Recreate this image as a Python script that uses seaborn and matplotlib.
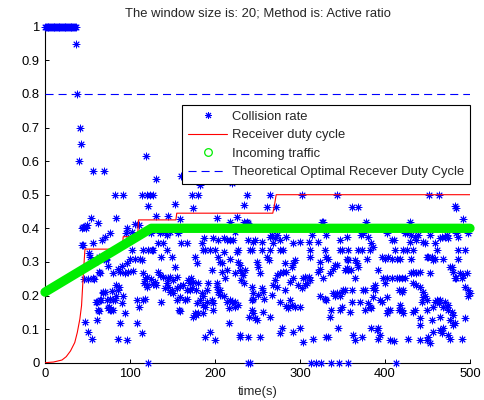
import matplotlib
matplotlib.use("Agg")
import matplotlib.pyplot as plt
from matplotlib.lines import Line2D
import pandas as pd
import seaborn as sns

sns.set_theme(style="white")
plt.rcParams["font.family"] = ["Liberation Sans", "DejaVu Sans"]
plt.rcParams["lines.scale_dashes"] = False

TITLE = "The window size is: 20; Method is: Active ratio"
X_LABEL = "time(s)"
LEGEND_LABELS = ["Collision rate", "Receiver duty cycle", "Incoming traffic",
                 "Theoretical Optimal Recever Duty Cycle"]
X_TICKS = [0, 100, 200, 300, 400, 500]
Y_TICKS = [0, 0.1, 0.2, 0.3, 0.4, 0.5, 0.6, 0.7, 0.8, 0.9, 1]
Y_TICK_LABELS = ["0", "0.1", "0.2", "0.3", "0.4", "0.5", "0.6", "0.7", "0.8", "0.9", "1"]

# collision rate: saturated start-up phase (every packet collides)
startup_t = [0, 1, 2, 3, 4, 5, 6, 7, 8, 9, 10, 11, 12, 13, 14, 15, 16, 17, 18,
             19, 20, 21, 22, 23, 24, 25, 26, 27, 28, 29, 30, 31, 32, 33, 34, 35, 36]
startup_rate = [1, 1, 1, 1, 1, 1, 1, 1, 1, 1, 1, 1, 1, 1, 1, 1, 1, 1, 1,
                1, 1, 1, 1, 1, 1, 1, 1, 1, 1, 1, 1, 1, 1, 1, 1, 1, 1]

# collision rate samples (time, rate) after start-up
collision_ramp = [
    (37, 0.95), (38, 0.80), (40, 0.60), (41, 0.70), (42, 0.65), (43, 0.35), (44, 0.40),
    (45, 0.35), (46, 0.405), (47, 0.12), (48, 0.40), (49, 0.41), (50, 0.25), (51, 0.092),
    (52, 0.327), (53, 0.315), (54, 0.43), (55, 0.072), (56, 0.357), (57, 0.57), (58, 0.25),
    (59, 0.30), (60, 0.182), (61, 0.127), (62, 0.417), (63, 0.155), (64, 0.315), (65, 0.268),
    (66, 0.187), (67, 0.365), (68, 0.206), (69, 0.57), (70, 0.375), (71, 0.211), (72, 0.31),
    (73, 0.187), (74, 0.288), (75, 0.167), (76, 0.19), (77, 0.385), (78, 0.157), (79, 0.214),
    (71.5, 0.305), (63.5, 0.271), (46, 0.25), (57, 0.251), (61, 0.18), (64.7, 0.187),
    (68.6, 0.211), (76.5, 0.157), (74.5, 0.162), (45, 0.405), (62.7, 0.157),
]
collision_mid = [
    (82.4, 0.5), (92, 0.5), (114.5, 0.5), (120, 0.5), (123, 0.5), (126.7, 0.5), (118.8, 0.616),
    (130, 0.546), (121.6, 0.466), (153, 0.471), (84, 0.43), (131, 0.437), (145, 0.437),
    (158.8, 0.427), (96, 0.40), (95, 0.385), (110, 0.41), (102, 0.39), (106, 0.412), (135, 0.385),
    (143, 0.38), (157, 0.385), (124.7, 0.385), (141, 0.39), (147, 0.39), (100, 0.365),
    (159.6, 0.355), (133, 0.355), (139, 0.355), (115.7, 0.335), (121.6, 0.335), (125.5, 0.335),
    (127.5, 0.335), (143, 0.335), (102, 0.335), (100, 0.31), (106, 0.31), (112, 0.31),
    (114, 0.305), (137, 0.315), (149, 0.315), (153, 0.286), (90, 0.288), (96, 0.296), (86, 0.28),
    (88, 0.27), (94, 0.266), (98, 0.271), (104, 0.273), (80, 0.266), (115.7, 0.266),
    (119.6, 0.256), (118, 0.25), (125, 0.25), (133, 0.271), (135, 0.26), (139, 0.256),
    (145, 0.251), (147, 0.256), (151, 0.246), (155, 0.256), (127, 0.234), (129, 0.24),
    (143, 0.236), (84, 0.231), (87.5, 0.226), (86, 0.216), (116.5, 0.236), (119.6, 0.231),
    (120.4, 0.226), (131, 0.231), (141, 0.221), (145, 0.226), (149, 0.216), (151, 0.206),
    (147, 0.211), (155, 0.221), (159, 0.228), (84, 0.2), (92, 0.2), (80, 0.187), (82, 0.187),
    (90, 0.177), (108, 0.187), (115.7, 0.187), (117.6, 0.19), (110, 0.167), (137, 0.182),
    (155, 0.187), (159, 0.196), (94, 0.147), (80, 0.157), (157.6, 0.157), (88, 0.119),
    (108, 0.119), (113.7, 0.087), (86, 0.072), (96, 0.067), (121.6, 0.0), (160, 0.555),
    (159, 0.155),
]
collision_late1 = [
    (182, 0.529), (220, 0.535), (172.5, 0.5), (180.4, 0.5), (237.6, 0.5), (174.5, 0.46),
    (233.7, 0.469), (202, 0.43), (217.6, 0.42), (225.5, 0.435), (233.7, 0.42), (237.6, 0.42),
    (239, 0.415), (224, 0.39), (187, 0.37), (166.7, 0.357), (198, 0.37), (210, 0.37),
    (214, 0.365), (218, 0.365), (221.6, 0.365), (204, 0.365), (239, 0.365), (184.3, 0.355),
    (186.3, 0.335), (188, 0.335), (194, 0.335), (200, 0.335), (210, 0.33), (225.5, 0.33),
    (227.5, 0.335), (241, 0.335), (176.5, 0.315), (178.4, 0.296), (204, 0.315), (206, 0.30),
    (208, 0.296), (217.6, 0.31), (227.5, 0.30), (229.4, 0.29), (231.4, 0.266), (196, 0.276),
    (214, 0.276), (229, 0.276), (208, 0.271), (223.5, 0.268), (212, 0.251), (231, 0.246),
    (168.6, 0.246), (172, 0.251), (174, 0.241), (170.6, 0.236), (180, 0.236), (172.5, 0.221),
    (166.7, 0.216), (171, 0.216), (178, 0.216), (162.7, 0.231), (184.3, 0.206), (186, 0.2),
    (190, 0.216), (192, 0.236), (202, 0.236), (202, 0.226), (206, 0.216), (204, 0.211),
    (206, 0.201), (210, 0.2), (165, 0.187), (167, 0.19), (178.4, 0.177), (182, 0.187),
    (190, 0.182), (196, 0.187), (198, 0.177), (214, 0.182), (219.6, 0.18), (223.5, 0.182),
    (218, 0.187), (227.5, 0.172), (216, 0.162), (223.5, 0.167), (243, 0.187), (186, 0.172),
    (188, 0.167), (198, 0.157), (176.5, 0.147), (174.5, 0.137), (178, 0.142), (180.4, 0.147),
    (186.3, 0.147), (216, 0.119), (240, 0.137), (188, 0.077), (194, 0.092), (200, 0.067),
    (229.4, 0.077), (239, 0.077), (239, 0.0), (241.5, 0.0), (233, 0.26), (235, 0.276),
    (234, 0.236), (229, 0.082),
]
collision_late2 = [
    (264.7, 0.5), (302, 0.5), (260.8, 0.464), (271.8, 0.464), (247, 0.365), (284, 0.375),
    (264.7, 0.375), (270.6, 0.37), (272.5, 0.38), (266.7, 0.38), (268.6, 0.355), (276, 0.365),
    (292, 0.355), (300, 0.36), (310, 0.36), (314, 0.38), (321.6, 0.36), (325.5, 0.42),
    (245, 0.36), (255, 0.36), (243, 0.335), (255, 0.335), (264.7, 0.335), (276.5, 0.335),
    (280.4, 0.335), (311.8, 0.335), (249, 0.30), (251, 0.286), (253, 0.266), (261, 0.315),
    (263, 0.305), (292, 0.296), (294, 0.305), (290, 0.286), (284, 0.27), (282, 0.296),
    (312, 0.315), (323.5, 0.30), (272.5, 0.261), (270.6, 0.246), (268.6, 0.231), (276.5, 0.266),
    (280.4, 0.27), (306, 0.256), (310, 0.256), (312, 0.246), (308, 0.236), (306, 0.231),
    (303, 0.251), (292, 0.251), (288, 0.241), (298, 0.231), (321.6, 0.271), (323.5, 0.28),
    (243, 0.226), (245, 0.206), (251, 0.201), (257, 0.211), (255, 0.221), (267, 0.201),
    (245, 0.19), (258, 0.19), (272.5, 0.226), (276.5, 0.182), (282, 0.216), (288, 0.187),
    (290, 0.172), (286, 0.162), (284, 0.17), (294, 0.167), (300, 0.167), (302, 0.221),
    (323.5, 0.2), (243, 0.157), (245, 0.147), (247, 0.132), (249, 0.127), (257, 0.152),
    (265, 0.137), (278.4, 0.102), (276.5, 0.087), (292, 0.092), (300, 0.102), (303, 0.062),
    (253, 0.077), (315, 0.072), (313, 0.0), (319, 0.0), (325, 0.0),
]
collision_late3 = [
    (343, 0.5), (360.8, 0.464), (368.6, 0.464), (377.6, 0.42), (327.5, 0.42), (331, 0.38),
    (347, 0.365), (355, 0.375), (374.5, 0.385), (372, 0.38), (380.4, 0.375), (384, 0.355),
    (386, 0.345), (402, 0.385), (408, 0.365), (329, 0.335), (347, 0.335), (349, 0.335),
    (357, 0.335), (368.6, 0.335), (372.5, 0.335), (382, 0.335), (331, 0.315), (333, 0.31),
    (355, 0.31), (357, 0.305), (378.4, 0.31), (396, 0.315), (400, 0.31), (404, 0.315),
    (408, 0.31), (341, 0.29), (339, 0.28), (343, 0.29), (335, 0.266), (353, 0.276),
    (355, 0.281), (356, 0.276), (360, 0.276), (364.7, 0.305), (366.7, 0.296), (368.6, 0.286),
    (392, 0.276), (327.5, 0.251), (364.7, 0.251), (398, 0.251), (402, 0.251), (408, 0.251),
    (400, 0.236), (388, 0.231), (386, 0.221), (339, 0.206), (343, 0.206), (341, 0.2),
    (347, 0.2), (349, 0.211), (351, 0.216), (353, 0.216), (360.8, 0.216), (374.5, 0.216),
    (376, 0.216), (388, 0.216), (386, 0.196), (329, 0.19), (331, 0.187), (360.8, 0.182),
    (370.6, 0.182), (380.4, 0.177), (382, 0.167), (384, 0.162), (396, 0.182), (394, 0.187),
    (402, 0.196), (337, 0.157), (335, 0.137), (347, 0.157), (349, 0.167), (359, 0.152),
    (376, 0.157), (402, 0.147), (404, 0.157), (406, 0.157), (345, 0.102), (331, 0.077),
    (333, 0.077), (362.7, 0.082), (364.7, 0.067), (372.5, 0.077), (384, 0.102), (390, 0.097),
    (392, 0.102), (394, 0.082), (392, 0.072), (406, 0.067), (336, 0.0), (346, 0.0), (356, 0.0),
]
collision_late4 = [
    (452, 0.5), (463, 0.5), (482, 0.466), (484, 0.46), (492, 0.428), (429.4, 0.42),
    (423.5, 0.385), (425.5, 0.385), (431, 0.38), (435, 0.375), (439, 0.38), (437, 0.365),
    (445, 0.36), (447, 0.355), (410, 0.365), (453, 0.38), (458.8, 0.355), (464.7, 0.37),
    (466.7, 0.375), (470.6, 0.375), (472.5, 0.38), (474.5, 0.37), (484, 0.385), (486, 0.375),
    (498, 0.385), (429.4, 0.36), (412, 0.335), (421.6, 0.335), (425.5, 0.335), (433, 0.335),
    (461, 0.335), (486, 0.335), (494, 0.335), (413.7, 0.31), (417.6, 0.31), (431, 0.31),
    (449, 0.315), (451, 0.315), (455, 0.315), (457, 0.305), (459, 0.31), (468.6, 0.31),
    (486, 0.31), (476, 0.286), (478.4, 0.286), (431, 0.266), (433, 0.271), (437, 0.266),
    (441, 0.271), (453, 0.266), (480, 0.271), (488, 0.266), (496, 0.266), (482, 0.251),
    (484, 0.251), (490, 0.251), (492, 0.261), (414, 0.251), (416, 0.251), (420, 0.251),
    (423.5, 0.251), (433, 0.236), (437, 0.231), (441, 0.226), (416, 0.216), (419.6, 0.211),
    (421.6, 0.216), (445, 0.211), (447, 0.2), (443, 0.182), (445, 0.196), (449, 0.187),
    (494, 0.226), (498, 0.216), (500, 0.206), (498, 0.2), (458.8, 0.182), (461, 0.187),
    (463, 0.177), (464.7, 0.187), (470.6, 0.182), (468.6, 0.167), (472.5, 0.167),
    (474.5, 0.172), (457, 0.167), (417.6, 0.172), (419.6, 0.157), (421.6, 0.147), (416, 0.157),
    (433, 0.152), (435, 0.157), (449, 0.157), (474.5, 0.157), (478.4, 0.152), (480.4, 0.142),
    (464.7, 0.137), (476.5, 0.127), (482, 0.117), (494, 0.132), (455, 0.127), (441, 0.132),
    (441, 0.112), (480, 0.112), (457, 0.092), (465, 0.097), (468.6, 0.102), (467, 0.087),
    (474.5, 0.082), (476.5, 0.072), (490, 0.072), (410, 0.065), (427, 0.072), (441, 0.067),
    (449, 0.067), (451, 0.077), (453, 0.058), (413, 0.0),
]

# receiver duty cycle (adaptive, stepwise)
duty_t = [0, 10, 20, 25, 30, 35, 38, 41, 43, 45, 47, 91, 92, 109, 110, 154, 155,
          268, 270, 272, 500]
duty_cycle = [0, 0.002, 0.008, 0.018, 0.035, 0.06, 0.09, 0.13, 0.17, 0.26, 0.338, 0.338,
              0.375, 0.375, 0.425, 0.425, 0.445, 0.445, 0.47, 0.5, 0.5]

# incoming traffic profile
traffic_t = [0, 125, 500]
traffic = [0.21, 0.40, 0.40]

optimal_duty = 0.8

BLUE = "#0000ff"
RED = "#ff0000"
GREEN = "#00ee00"
ASTERISK = (8, 2, 0)
FS = 9.4

pairs = (collision_ramp + collision_mid + collision_late1 + collision_late2
         + collision_late3 + collision_late4)
collision = pd.DataFrame({
    "t": startup_t + [p[0] for p in pairs],
    "rate": startup_rate + [p[1] for p in pairs],
})

fig = plt.figure(figsize=(4.84, 4.0), dpi=100)
ax = fig.add_axes([45 / 484, 37.3 / 400, 425 / 484, 336 / 400])

sns.scatterplot(data=collision, x="t", y="rate", marker=ASTERISK, s=24,
                color=BLUE, edgecolor=BLUE, linewidth=0.7, clip_on=False,
                legend=False, ax=ax, zorder=3)
sns.lineplot(x=duty_t, y=duty_cycle, color=RED, linewidth=0.8, estimator=None,
             sort=False, ax=ax, zorder=4)
sns.lineplot(x=traffic_t, y=traffic, color=GREEN, linewidth=6.7, estimator=None,
             sort=False, solid_capstyle="round", clip_on=False, ax=ax, zorder=5)
ax.axhline(optimal_duty, color=BLUE, linewidth=0.8, dashes=(5.8, 3.6), zorder=6)

ax.set_xlim(0, 500)
ax.set_ylim(0, 1)
ax.set_xticks(X_TICKS)
ax.set_yticks(Y_TICKS)
ax.set_yticklabels(Y_TICK_LABELS)
ax.tick_params(direction="in", length=3, width=0.7, labelsize=FS, colors="black",
               pad=4, top=False, right=False, bottom=True, left=True)
for side in ("top", "right"):
    ax.spines[side].set_visible(False)
for side in ("left", "bottom"):
    ax.spines[side].set_color("black")
    ax.spines[side].set_linewidth(0.8)
ax.set_facecolor("white")
ax.grid(False)

ax.set_title(TITLE, fontsize=FS, pad=7)
ax.set_xlabel(X_LABEL, fontsize=FS, labelpad=4)
ax.set_ylabel("")

handles = [
    Line2D([], [], linestyle="none", marker=ASTERISK, markersize=5, color=BLUE,
           markeredgewidth=0.7),
    Line2D([], [], color=RED, linewidth=0.8),
    Line2D([], [], linestyle="none", marker="o", markersize=5.5, markerfacecolor="none",
           markeredgecolor=GREEN, markeredgewidth=0.9),
    Line2D([], [], color=BLUE, linewidth=0.8, dashes=(5.8, 3.6)),
]
leg = ax.legend(handles, LEGEND_LABELS, loc="upper right", bbox_to_anchor=(1.0, 0.767),
                borderaxespad=0, fontsize=FS, frameon=True, fancybox=False,
                framealpha=1, edgecolor="black", handlelength=3.0, handletextpad=0.35,
                labelspacing=0.48, borderpad=0.45)
leg.get_frame().set_linewidth(0.8)
leg.set_zorder(10)

fig.savefig("out.png", dpi=100, facecolor="white")
